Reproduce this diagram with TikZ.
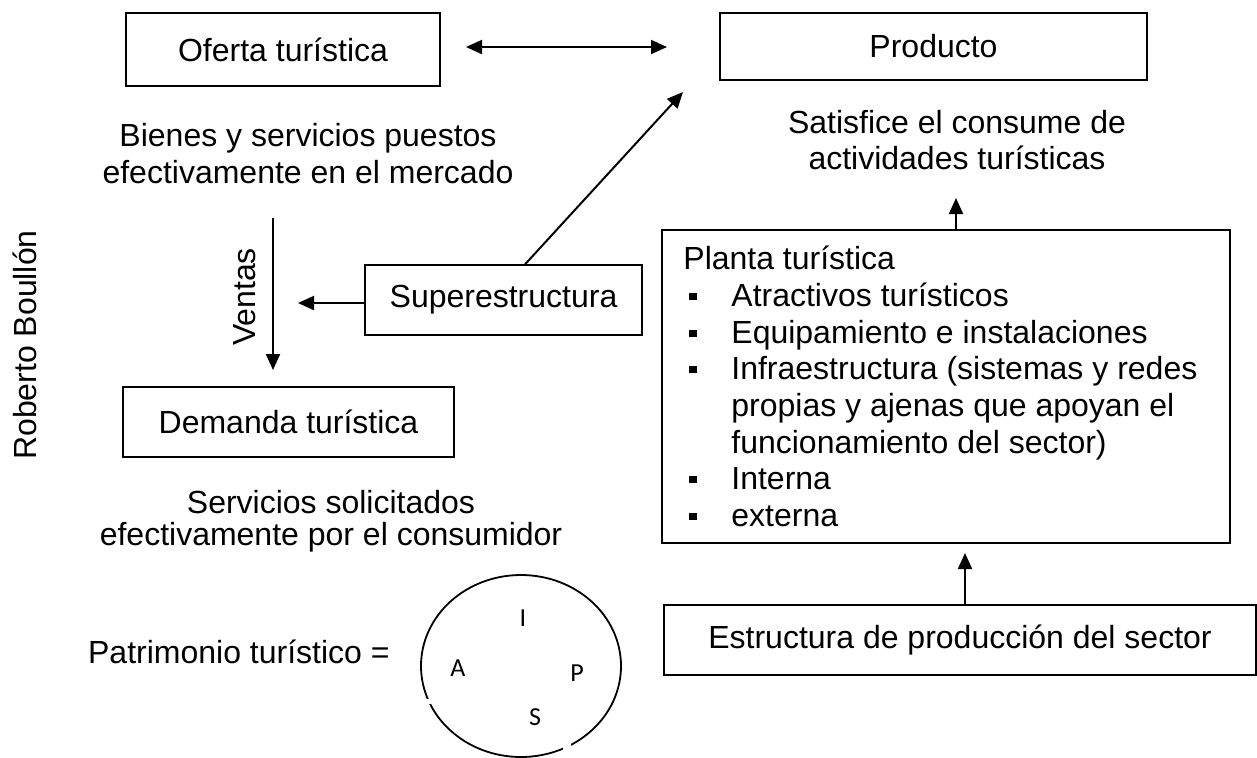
\documentclass[tikz,border=0pt]{standalone}
\usepackage{fontspec}
\setmainfont{Liberation Sans}
\newfontfamily\calibfont{Carlito}
\usetikzlibrary{arrows.meta,calc,shapes.geometric}
\newcommand\mybul{\makebox[21pt][l]{\rule[3.2pt]{3.8pt}{3.8pt}}}
\begin{document}
\begin{tikzpicture}[x=0.5pt,y=-0.5pt,
  box/.style={draw, line width=0.65pt, inner sep=0pt, font=\fontsize{16}{18.35}\selectfont},
  lbl/.style={inner sep=0pt, font=\fontsize{16}{18.35}\selectfont},
  pl/.style={inner sep=0pt, anchor=base west, font=\fontsize{16}{18.35}\selectfont},
  letter/.style={inner sep=0pt, font=\calibfont\fontsize{13}{15}\selectfont},
  arr/.style={line width=1pt, -{Triangle[length=8pt,width=7pt]}},
  darr/.style={line width=1pt, {Triangle[length=8pt,width=7pt]}-{Triangle[length=8pt,width=7pt]}}]
\useasboundingbox (0,0) rectangle (1257,757);

% top row
\node[box, line width=1.2pt, minimum width=157pt, minimum height=36.5pt] (oferta) at (283,49.5) {Oferta turística};
\node[box, minimum width=213.5pt, minimum height=33.5pt] (producto) at (933.5,46.5) {Producto};
\coordinate (da1) at (466,47);
\coordinate (da2) at (667,47);
\draw[darr] (da1) -- (da2);

% texts under boxes
\node[lbl, align=center, font=\fontsize{16}{18.5}\selectfont] (bienes) at (308,153.5) {Bienes y servicios puestos\\efectivamente en el mercado};
\node[lbl, align=center] (satis) at (957,140) {Satisfice el consume de\\actividades turísticas};

% Ventas
\coordinate (v1) at (273,218);
\coordinate (v2) at (273,370);
\draw[arr] (v1) -- (v2);
\node[lbl, rotate=90] (ventas) at (245,297) {Ventas};

% Superestructura
\node[box, minimum width=138.5pt, minimum height=35pt] (super) at (503.5,300) {Superestructura};
\coordinate (sa) at (298,303);
\draw[arr] ($(super.west)+(0,3)$) -- (sa);
\coordinate (pa) at (683,92);
\draw[arr] ($(super.north)+(21.5,0)$) -- (pa);

% Demanda
\node[box, minimum width=165.5pt, minimum height=35pt] (demanda) at (288.5,422) {Demanda turística};
\node[lbl, align=center, font=\fontsize{16}{16}\selectfont] (servicios) at (331,521) {Servicios solicitados\\efectivamente por el consumidor};

% Roberto
\node[lbl, rotate=90] (rb) at (25,345) {Roberto Boullón};

% Patrimonio
\node[lbl, anchor=east] (patri) at (390,652) {Patrimonio turístico =};
\node[draw, ellipse, line width=0.9pt, minimum width=100pt, minimum height=91pt] (pat) at (521,666) {};
\fill[white] (425,699) rectangle (434,704);
\fill[white] (563,744) rectangle (571,758);
\node[letter] (li) at (523,618) {I};
\node[letter] (la) at (458,668) {A};
\node[letter] (lp) at (577,673) {P};
\node[letter] (ls) at (535,717) {S};

% Planta
\node[box, minimum width=284pt, minimum height=156.5pt] (planta) at (946,386.5) {};
\coordinate (u1) at (956,230);
\coordinate (u2) at (956,198);
\draw[arr] (u1) -- (u2);
\node[pl] (l1) at (683,269.5) {Planta turística};
\node[pl] (l2) at (689,306.5) {\mybul Atractivos turísticos};
\node[pl] (l3) at (689,343.5) {\mybul Equipamiento e instalaciones};
\node[pl] (l4) at (689,379.5) {\mybul Infraestructura (sistemas y redes};
\node[pl] (l5) at (731,416.5) {propias y ajenas que apoyan el};
\node[pl] (l6) at (731,453.5) {funcionamiento del sector)};
\node[pl] (l7) at (689,489.5) {\mybul Interna};
\node[pl] (l8) at (689,526.5) {\mybul externa};

% Estructura
\node[box, minimum width=296pt, minimum height=35pt] (estructura) at (960,640) {Estructura de producción del sector};
\coordinate (e1) at (965,605);
\coordinate (e2) at (965,553);
\draw[arr] (e1) -- (e2);
\end{tikzpicture}
\end{document}
